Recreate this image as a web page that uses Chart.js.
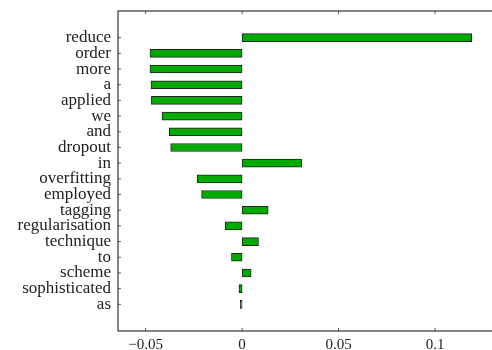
<!DOCTYPE html>
<html>
<head>
<meta charset="utf-8">
<script src="https://cdn.jsdelivr.net/npm/chart.js"></script>
<style>
  body { margin: 0; background: #fff; }
  #wrap { width: 492px; height: 350px; }
</style>
</head>
<body>
<div id="wrap"><canvas id="chart"></canvas></div>
<script>
const words = ["reduce", "order", "more", "a", "applied", "we", "and", "dropout", "in",
    "overfitting", "employed", "tagging", "regularisation", "technique", "to", "scheme",
    "sophisticated", "as"];
const weights = [0.119, -0.0477, -0.0477, -0.0472, -0.047, -0.0415, -0.0377, -0.037, 0.031,
    -0.0232, -0.021, 0.0135, -0.0087, 0.0085, -0.0055, 0.0047, -0.0016, -0.0009];
const xTicks = [-0.05, 0, 0.05, 0.1];

const textColor = "#222";
const fontFamily = "'Liberation Serif', 'DejaVu Serif', serif";

// frame round the plot plus small inward ticks
const framePlugin = {
    id: "frame",
    afterDraw(chart) {
        const ctx = chart.ctx;
        const a = chart.chartArea;
        const xs = chart.scales.x;
        const ys = chart.scales.y;
        ctx.save();
        ctx.strokeStyle = "#333";
        ctx.lineWidth = 1.2;
        ctx.strokeRect(a.left, a.top, a.right - a.left + 2, a.bottom - a.top);
        ctx.lineWidth = 0.8;
        ctx.beginPath();
        xTicks.forEach(t => {
            const px = xs.getPixelForValue(t);
            ctx.moveTo(px, a.top); ctx.lineTo(px, a.top + 3);
            ctx.moveTo(px, a.bottom); ctx.lineTo(px, a.bottom - 3);
        });
        words.forEach((w, i) => {
            const py = ys.getPixelForValue(i);
            ctx.moveTo(a.left, py); ctx.lineTo(a.left + 3, py);
        });
        ctx.stroke();
        ctx.restore();
    }
};

new Chart(document.getElementById("chart"), {
    type: "bar",
    data: {
        datasets: [{
            data: weights.map((v, i) => ({ x: v, y: i })),
            backgroundColor: "#00aa00",
            borderColor: "#222",
            borderWidth: 1,
            borderSkipped: false,
            barThickness: 8
        }]
    },
    options: {
        indexAxis: "y",
        responsive: true,
        maintainAspectRatio: false,
        animation: false,
        layout: { padding: { top: 11, left: 0, right: 0, bottom: 0 } },
        plugins: {
            legend: { display: false },
            tooltip: { enabled: false }
        },
        scales: {
            x: {
                type: "linear",
                min: -0.0643,
                max: 0.1295,
                afterBuildTicks: s => { s.ticks = xTicks.map(v => ({ value: v })); },
                ticks: {
                    color: textColor,
                    font: { family: fontFamily, size: 15 },
                    padding: 5,
                    maxRotation: 0,
                    callback: v => v === 0 ? "0" : String(v).replace("-", "\u2212")
                },
                grid: { display: false, drawTicks: false },
                border: { display: false },
                afterFit: s => { s.height = 19; s.paddingLeft = 0; s.paddingRight = 0; }
            },
            y: {
                type: "linear",
                offset: false,
                reverse: true,
                min: -1.7,
                max: 18.7,
                afterBuildTicks: s => { s.ticks = words.map((w, i) => ({ value: i })); },
                ticks: {
                    color: textColor,
                    font: { family: fontFamily, size: 17 },
                    padding: 7,
                    autoSkip: false,
                    callback: v => words[v]
                },
                grid: { display: false, offset: false, drawTicks: false },
                border: { display: false },
                afterFit: s => { s.width = 118; s.paddingTop = 0; s.paddingBottom = 0; }
            }
        }
    },
    plugins: [framePlugin]
});
</script>
</body>
</html>
